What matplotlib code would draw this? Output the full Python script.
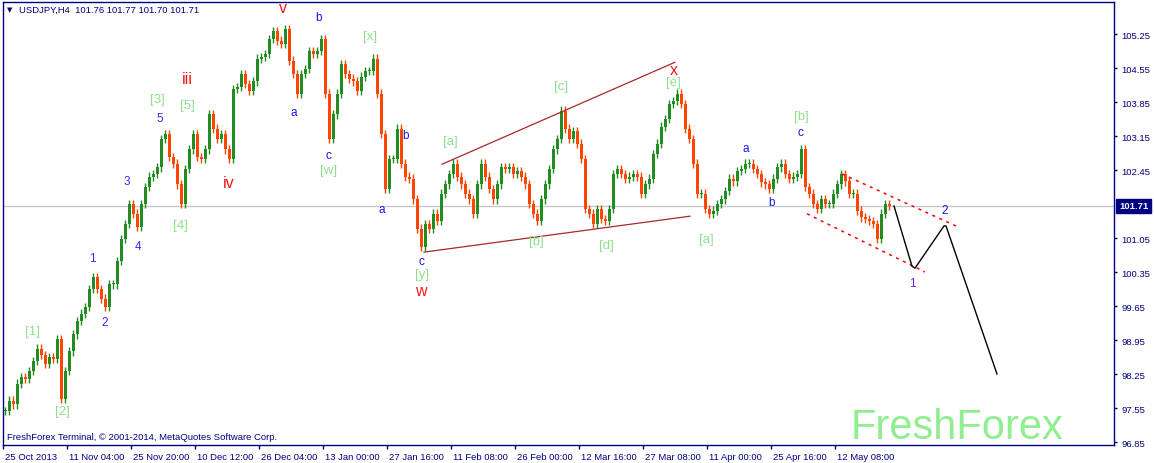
import numpy as np
import matplotlib
matplotlib.use("Agg")
import matplotlib.pyplot as plt
import matplotlib.transforms as mtrans
from matplotlib.transforms import blended_transform_factory

# ---------------- data ----------------
symbol = "USDJPY,H4"
last_ohlc = [101.76, 101.77, 101.70, 101.71]
current_price = 101.71

closes = [
    97.49, 97.70, 97.63, 98.05, 98.19, 98.15, 98.31, 98.52, 98.77, 98.64,
    98.46, 98.60, 98.56, 98.97, 97.74, 98.31, 98.72, 99.07, 99.34, 99.49,
    99.63, 100.00, 100.25, 100.00, 99.80, 99.63, 100.10, 100.10, 100.58, 101.03,
    101.34, 101.75, 101.55, 101.28, 101.75, 102.10, 102.31, 102.37, 102.51, 103.09,
    103.19, 102.72, 102.58, 102.16, 101.75, 102.47, 102.88, 103.19, 102.72, 102.68,
    102.88, 103.60, 103.30, 103.09, 103.19, 102.88, 102.68, 104.12, 104.16, 104.43,
    104.22, 104.08, 104.28, 104.74, 104.78, 104.84, 105.15, 105.31, 105.11, 105.05,
    105.35, 104.70, 104.43, 104.02, 104.43, 104.53, 104.90, 104.84, 104.90, 105.15,
    104.02, 103.09, 103.60, 104.02, 104.63, 104.43, 104.33, 104.28, 104.08, 104.37,
    104.49, 104.49, 104.74, 104.02, 103.19, 102.06, 102.68, 102.68, 103.30, 102.58,
    102.31, 102.27, 101.85, 101.24, 100.87, 101.34, 101.24, 101.55, 101.40, 101.96,
    102.16, 102.37, 102.58, 102.31, 102.16, 101.96, 101.85, 101.55, 102.16, 102.58,
    102.31, 102.06, 101.85, 102.16, 102.51, 102.47, 102.51, 102.37, 102.43, 102.31,
    102.16, 101.75, 101.55, 101.40, 101.85, 102.16, 102.47, 102.88, 103.09, 103.67,
    103.30, 103.09, 103.25, 102.99, 102.68, 101.65, 101.55, 101.34, 101.65, 101.44,
    101.40, 101.65, 102.37, 102.47, 102.37, 102.27, 102.31, 102.37, 102.31, 101.96,
    102.16, 102.27, 102.78, 102.99, 103.34, 103.50, 103.81, 103.87, 104.02, 103.81,
    103.30, 103.09, 102.58, 101.96, 101.96, 101.65, 101.55, 101.61, 101.75, 101.85,
    102.02, 102.27, 102.22, 102.43, 102.47, 102.58, 102.58, 102.47, 102.37, 102.20,
    102.16, 102.06, 102.27, 102.51, 102.58, 102.37, 102.27, 102.31, 102.37, 102.88,
    102.10, 101.96, 101.75, 101.65, 101.85, 101.75, 101.75, 101.96, 102.16, 102.37,
    102.22, 101.96, 101.96, 101.61, 101.48, 101.44, 101.40, 101.34, 101.03, 101.55,
    101.75, 101.71,
]

date_labels = ["25 Oct 2013", "11 Nov 04:00", "25 Nov 20:00", "10 Dec 12:00",
               "26 Dec 04:00", "13 Jan 00:00", "27 Jan 16:00", "11 Feb 08:00",
               "26 Feb 00:00", "12 Mar 16:00", "27 Mar 08:00", "11 Apr 00:00",
               "25 Apr 16:00", "12 May 08:00"]

price_ticks = [96.85, 97.55, 98.25, 98.95, 99.65, 100.35, 101.05,
               102.45, 103.15, 103.85, 104.55, 105.25]

# Elliott-wave labels: (bar position, price, text, kind)
wave_labels = [
    (283, 105.79, "v", "red"), (319, 105.60, "b", "blue"), (370, 105.21, "[x]", "green"),
    (187, 104.33, "iii", "red"), (157, 103.92, "[3]", "green"), (160, 103.52, "5", "num"),
    (187, 103.79, "[5]", "green"), (294, 103.65, "a", "blue"), (328, 102.76, "c", "blue"),
    (329, 102.45, "[w]", "green"), (127, 102.22, "3", "num"), (229, 102.20, "iv", "red"),
    (180, 101.32, "[4]", "green"), (138, 100.89, "4", "num"), (92, 100.64, "1", "num"),
    (105, 99.32, "2", "num"), (33, 99.14, "[1]", "green"), (62, 97.49, "[2]", "green"),
    (382, 101.65, "a", "blue"), (406, 103.17, "b", "blue"), (450, 103.05, "[a]", "green"),
    (421, 100.58, "c", "blue"), (422, 100.31, "[y]", "green"), (421, 99.98, "w", "red"),
    (536, 100.99, "[b]", "green"), (561, 104.18, "[c]", "green"), (606, 100.91, "[d]", "green"),
    (674, 104.53, "x", "red"), (673, 104.26, "[e]", "green"), (706, 101.03, "[a]", "green"),
    (746, 102.91, "a", "blue"), (772, 101.79, "b", "blue"), (800, 103.23, "c", "blue"),
    (801, 103.56, "[b]", "green"), (912, 100.12, "1", "num2"), (945, 101.63, "2", "blue"),
]

triangle_lower = ([424, 690], [100.76, 101.50])
triangle_upper = ([442, 675], [102.57, 104.67])
channel_upper = ([842, 958], [102.37, 101.28])
channel_lower = ([807, 925], [101.55, 100.35])
forecast_x = [894, 912, 915, 944, 946, 997]
forecast_p = [101.71, 100.47, 100.43, 101.30, 101.30, 98.25]

# ---------------- style ----------------
W, H = 1154, 464
NAVY = "#000080"
UP = "#228B22"
DOWN = "#FF4500"
LABEL_COLORS = {"green": "#8EE08E", "red": "#F21818", "blue": "#1414F5",
                "num": "#4422F2", "num2": "#6A1CD8"}
LABEL_SIZES = {"green": 9.5, "red": 11.5, "blue": 8.5, "num": 8.5, "num2": 8.5}
FONT = "Liberation Sans"
SMALL = 6.8

fig = plt.figure(figsize=(W / 100, H / 100), dpi=100)
fig.patch.set_facecolor("white")
left_px, right_px, top_px, bot_px = 3, 1114, 3, 446
ax = fig.add_axes([left_px / W, (H - bot_px) / H,
                   (right_px - left_px) / W, (bot_px - top_px) / H])
ax.set_facecolor("white")
ax.set_xlim(left_px, right_px)
ax.set_ylim(96.789, 105.91)

# candles
c = np.array(closes)
o = np.r_[c[0], c[:-1]]
xb = 5 + 4 * np.arange(len(c))
cols = np.where(c >= o, UP, DOWN)
wick = 0.09
hi = np.maximum(o, c) + wick
lo = np.minimum(o, c) - wick
ax.vlines(xb, lo, hi, colors=cols, linewidth=1.0, zorder=3)
ax.bar(xb, np.maximum(np.abs(c - o), 0.025), bottom=np.minimum(o, c),
       width=3.0, color=cols, linewidth=0, zorder=3)

# current price line
ax.axhline(current_price, color="#C8C8C8", lw=1, zorder=1)

# drawing objects
ax.plot(*triangle_lower, color="#A52A2A", lw=0.9, zorder=4)
ax.plot(*triangle_upper, color="#A52A2A", lw=0.9, zorder=4)
ax.plot(*channel_upper, color="#FF0000", lw=1.1, ls=(0, (2, 3)), zorder=4)
ax.plot(*channel_lower, color="#FF0000", lw=1.1, ls=(0, (2, 3)), zorder=4)
ax.plot(forecast_x, forecast_p, color="black", lw=1.0, zorder=4)

for xp, pp, t, k in wave_labels:
    ax.text(xp, pp, t, color=LABEL_COLORS[k], fontsize=LABEL_SIZES[k],
            family=FONT, ha="center", va="center", zorder=5)

# axes styling
for s in ax.spines.values():
    s.set_color(NAVY)
    s.set_linewidth(1.0)
ax.yaxis.tick_right()
ax.set_yticks(price_ticks)
ax.set_yticklabels([f"{p:.2f}" for p in price_ticks])
ax.tick_params(axis="y", direction="out", length=2.5, width=1, color=NAVY,
               labelcolor=NAVY, labelsize=SMALL, pad=3)
xt = [left_px + 64 * i for i in range(len(date_labels))]
ax.set_xticks(xt)
ax.set_xticklabels(date_labels, ha="left")
ax.tick_params(axis="x", direction="out", length=3, width=1, color=NAVY,
               labelcolor=NAVY, labelsize=SMALL, pad=2)
off = mtrans.ScaledTranslation(2 / 100, 0, fig.dpi_scale_trans)
for lab in ax.get_xticklabels():
    lab.set_family(FONT)
    lab.set_horizontalalignment("left")
    lab.set_transform(lab.get_transform() + off)
for lab in ax.get_yticklabels():
    lab.set_family(FONT)

# current price box
bt = blended_transform_factory(ax.transAxes, ax.transData)
ax.text(1.0 + 5 / (right_px - left_px), current_price, f"{current_price:.2f}",
        transform=bt, ha="left", va="center", color="white", fontsize=SMALL,
        family=FONT, fontweight="bold", clip_on=False, zorder=10,
        bbox=dict(boxstyle="square,pad=0.3", fc=NAVY, ec=NAVY))

# header, footer, watermark
fig.text(7 / W, 1 - 10.5 / H, "\u25BC", fontsize=5, color=NAVY,
         family="DejaVu Sans", va="center", ha="left")
fig.text(19 / W, 1 - 10.5 / H,
         f"{symbol}  " + " ".join(f"{v:.2f}" for v in last_ohlc),
         fontsize=SMALL, color=NAVY, family=FONT, va="center", ha="left")
fig.text(7 / W, 1 - 438 / H,
         "FreshForex Terminal, \u00A9 2001-2014, MetaQuotes Software Corp.",
         fontsize=SMALL, color=NAVY, family=FONT, va="center", ha="left")
fig.text(851 / W, 1 - 439 / H, "FreshForex", fontsize=30, color="#90EE90",
         family=FONT, va="baseline", ha="left")

fig.savefig("out.png", dpi=100, facecolor="white")
